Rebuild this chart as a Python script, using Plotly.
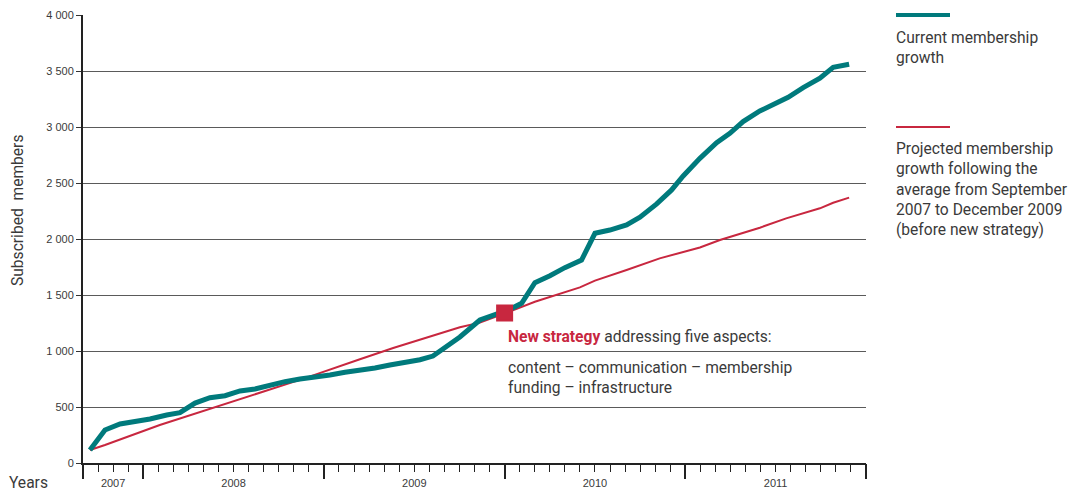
import plotly.graph_objects as go

# ---- data (x = months since 1 Sept 2007) ----
current_month = [0.46, 1.46, 2.46, 3.57, 4.45, 5.56, 6.44, 7.44, 8.43, 9.43, 10.43, 11.42,
                 12.42, 13.41, 14.41, 15.41, 16.4, 17.4, 18.39, 19.39, 20.38, 21.38, 22.38,
                 23.24, 24.15, 25.03, 26.36, 27.47, 28.35, 29.13, 30.01, 31.01, 32.0, 33.11,
                 34.0, 34.99, 36.1, 36.99, 38.1, 39.09, 39.86, 40.97, 42.08, 42.96, 43.84,
                 44.95, 45.84, 46.83, 47.83, 48.94, 49.82, 50.88]
current_members = [116, 295, 348, 369, 393, 428, 449, 535, 583, 601, 643, 661,
                   696, 726, 750, 765, 786, 810, 824, 848, 875, 899, 922,
                   955, 1045, 1125, 1277, 1330, 1372, 1426, 1610, 1672, 1744, 1812,
                   2051, 2080, 2125, 2194, 2313, 2438, 2563, 2720, 2860, 2943, 3048,
                   3143, 3205, 3265, 3351, 3435, 3533, 3560]

projected_month = [0.46, 1.46, 5.1, 9.1, 10.4, 13.96, 14.85, 18.39, 20.6, 25.03, 26.36, 28.5,
                   30.01, 33.0, 34.0, 36.1, 38.3, 40.97, 42.3, 44.95, 46.7, 48.94, 49.82, 50.88]
projected_members = [116, 161, 339, 515, 571, 726, 762, 926, 1027, 1212, 1253, 1360,
                     1440, 1568, 1628, 1723, 1827, 1924, 1991, 2101, 2184, 2274, 2324, 2369]

strategy_month = [28.0]
strategy_members = [1340]

year_labels = ["2007", "2008", "2009", "2010", "2011"]
year_centers = [2, 10, 22, 34, 46]
year_bounds = [0, 4, 16, 28, 40, 52]
month_ticks = list(range(0, 53))

y_ticks = [0, 500, 1000, 1500, 2000, 2500, 3000, 3500, 4000]
y_ticktext = ["0", "500", "1 000", "1 500", "2 000", "2 500", "3 000", "3 500", "4 000"]

TEAL = "#007a7c"
RED = "#c8273f"
TXT = "#3a3a3a"
TEXT_FONT = "Roboto, 'Open Sans', sans-serif"
TICK_FONT = "'Liberation Sans', Arial, sans-serif"
FS = 15.6

fig = go.Figure()
fig.add_trace(go.Scatter(x=projected_month, y=projected_members, mode="lines",
                         line=dict(color=RED, width=2), showlegend=False, hoverinfo="skip"))
fig.add_trace(go.Scatter(x=current_month, y=current_members, mode="lines",
                         line=dict(color=TEAL, width=5), showlegend=False, hoverinfo="skip"))
fig.add_trace(go.Scatter(x=strategy_month, y=strategy_members, mode="markers", xaxis="x2",
                         marker=dict(symbol="square", size=15, color=RED,
                                     line=dict(color=RED, width=2)),
                         showlegend=False, hoverinfo="skip"))

fig.update_layout(
    width=1074, height=494,
    margin=dict(l=83, r=208, t=15, b=31, autoexpand=False),
    paper_bgcolor="white", plot_bgcolor="white",
    font=dict(family=TEXT_FONT, color=TXT),
    xaxis=dict(range=[0, 52], tickmode="array", tickvals=year_centers, ticktext=year_labels,
               ticks="", showgrid=False, zeroline=False, showline=True, automargin=False,
               linecolor="#222", linewidth=2, ticklabelstandoff=9,
               tickfont=dict(family=TICK_FONT, size=11, color=TXT),
               minor=dict(tickmode="array", tickvals=month_ticks, ticks="outside",
                          ticklen=7, tickcolor="#222", tickwidth=1, showgrid=False)),
    xaxis2=dict(range=[0, 52], overlaying="x", anchor="y", side="bottom", automargin=False,
                tickmode="array", tickvals=year_bounds, ticks="outside", ticklen=15,
                tickwidth=2, tickcolor="#222", showticklabels=False, showgrid=False,
                zeroline=False, showline=False),
    yaxis=dict(range=[0, 4000], tickmode="array", tickvals=y_ticks, ticktext=y_ticktext,
               ticks="outside", ticklen=5, tickcolor="#333", showgrid=True, automargin=False,
               gridcolor="#5a5a5a", gridwidth=1, zeroline=False, showline=True,
               linecolor="#222", linewidth=2,
               tickfont=dict(family=TICK_FONT, size=11, color=TXT)),
)

W = 783.0
H = 448.0

def px_x(p):
    return (p - 83) / W

def px_y(p):
    return (463 - p) / H

annotations = [
    dict(text="Subscribed\u00a0 members", textangle=-90, x=px_x(18), y=px_y(211),
         xref="paper", yref="paper", xanchor="center", yanchor="middle",
         showarrow=False, font=dict(size=FS, color=TXT)),
    dict(text="Years", x=px_x(7), y=px_y(483), xref="paper", yref="paper",
         xanchor="left", yanchor="middle", showarrow=False, font=dict(size=FS, color=TXT)),
    dict(text="<b><span style='color:%s'>New strategy</span></b> addressing five aspects:" % RED,
         x=28.1, y=(463 - 337) / 0.112, xref="x", yref="y", xanchor="left", yanchor="middle",
         showarrow=False, font=dict(size=FS, color=TXT)),
    dict(text="content \u2013 communication \u2013 membership<br>funding \u2013 infrastructure",
         x=28.1, y=(463 - 377.5) / 0.112, xref="x", yref="y", xanchor="left",
         yanchor="middle", align="left", showarrow=False, font=dict(size=FS, color=TXT)),
    dict(text="Current membership<br>growth", x=px_x(894), y=px_y(47.5), xref="paper",
         yref="paper", xanchor="left", yanchor="middle", align="left", showarrow=False,
         font=dict(size=FS, color=TXT)),
    dict(text="Projected membership<br>growth following the<br>average from September"
              "<br>2007 to December 2009<br>(before new strategy)",
         x=px_x(894), y=px_y(189.5), xref="paper", yref="paper", xanchor="left",
         yanchor="middle", align="left", showarrow=False, font=dict(size=FS, color=TXT)),
]
fig.update_layout(annotations=annotations)

shapes = [
    dict(type="line", xref="paper", yref="paper", x0=px_x(896), x1=px_x(950),
         y0=px_y(15), y1=px_y(15), line=dict(color=TEAL, width=4)),
    dict(type="line", xref="paper", yref="paper", x0=px_x(896), x1=px_x(950),
         y0=px_y(127), y1=px_y(127), line=dict(color=RED, width=2)),
]
fig.update_layout(shapes=shapes)

fig.write_html("out.html", config={"displayModeBar": False},
               post_script="document.body.style.margin='0';"
                           "document.body.style.overflow='hidden';")
